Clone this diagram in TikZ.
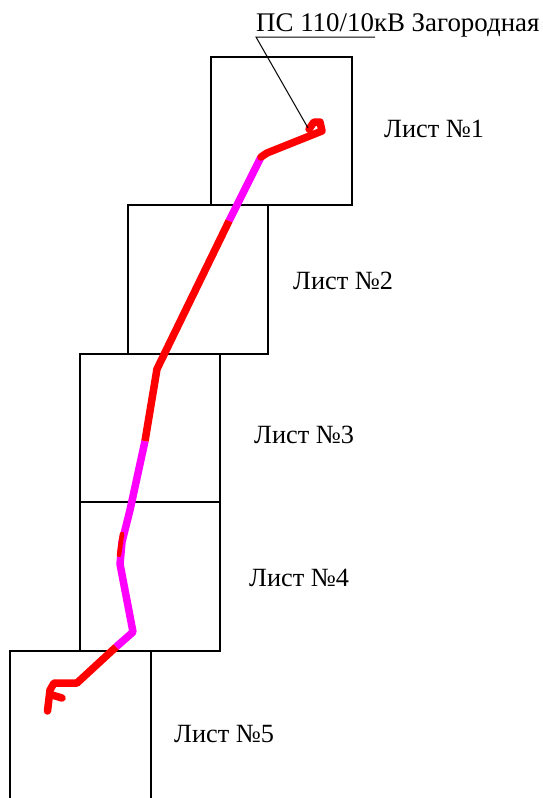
\documentclass[tikz,border=0pt]{standalone}
\usepackage{fontspec}
\setmainfont{Liberation Serif}
\definecolor{magenta2}{RGB}{255,0,255}
\tikzset{
  sheet/.style={draw=black,line width=2pt},
  lbl/.style={inner sep=0pt,anchor=base west,font=\fontsize{26.3}{30}\selectfont},
  ttl/.style={inner sep=0pt,anchor=base west,font=\fontsize{26.9}{30}\selectfont},
  redline/.style={draw=red,line width=7.5pt,line join=round,line cap=round},
  redbutt/.style={draw=red,line width=7.5pt,line join=round,line cap=butt},
  redthin/.style={draw=red,line width=4.5pt,line cap=round},
  magline/.style={draw=magenta2,line width=7.5pt,line join=round,line cap=butt},
  leader/.style={draw=black,line width=1pt}
}
\begin{document}
\begin{tikzpicture}[x=1pt,y=-1pt]
\useasboundingbox (0,0) rectangle (542,798);
\fill[white] (0,0) rectangle (542,798);
% sheets
\draw[sheet] (211,57) rectangle (352,205);
\draw[sheet] (128,205) rectangle (268,354);
\draw[sheet] (80,354) rectangle (220,502);
\draw[sheet] (80,502) rectangle (220,651);
\draw[sheet] (10,798) -- (10,651) -- (151,651) -- (151,798);
% route
\draw[magline] (261,157) -- (229,221);
\draw[magline] (145,441) -- (130,510) -- (122,542) -- (120,564) -- (133,632) -- (116,647);
\draw[redbutt] (229,221) -- (157,369) -- (145,441);
\draw[redthin] (122,534) -- (119,555);
\draw[redline] (309,129) -- (314,122) -- (320,122) -- (322,131) -- (267,153) -- (261,157);
\draw[redbutt] (116,647) -- (77,683);
\draw[redline] (77,683) -- (54,683) -- (50,690) -- (47.5,711);
\draw[redline] (52,695) -- (62,698);
% leader
\node[ttl] (title) at (256,31) {ПС 110/10кВ Загородная};
\coordinate (la) at (256,37);
\coordinate (lb) at (375,37);
\coordinate (lc) at (308,128);
\draw[leader] (lb) -- (la) -- (lc);
% labels
\node[lbl] (l1) at (384,137) {Лист №1};
\node[lbl] (l2) at (293,289) {Лист №2};
\node[lbl] (l3) at (254,443) {Лист №3};
\node[lbl] (l4) at (249,586) {Лист №4};
\node[lbl] (l5) at (174,742) {Лист №5};
\end{tikzpicture}
\end{document}
